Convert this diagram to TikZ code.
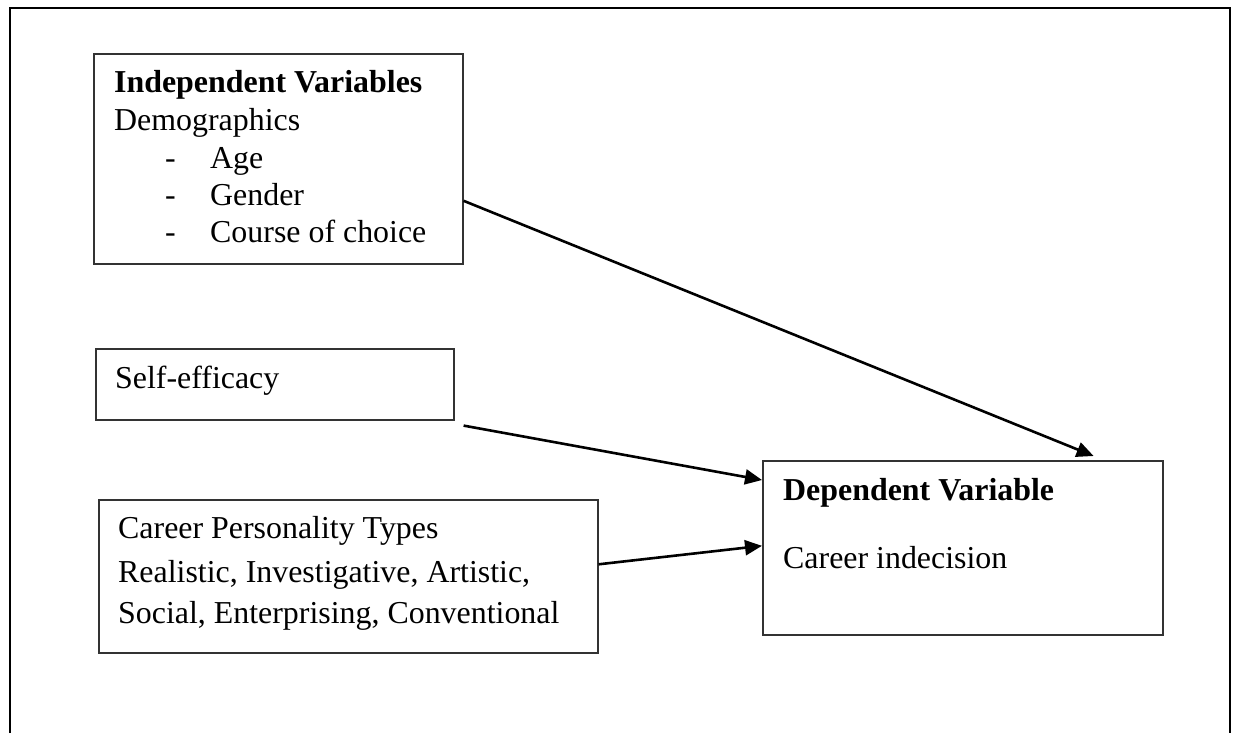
\documentclass[tikz,border=0pt]{standalone}
\usepackage{fontspec}
\setmainfont{Liberation Serif}
\usetikzlibrary{arrows.meta}
\begin{document}
\begin{tikzpicture}[x=1pt,y=-1pt,
  box/.style={draw=black!80, line width=1.6pt, rectangle, inner sep=0pt, anchor=north west},
  txt/.style={anchor=base west, inner sep=0pt, font=\fontsize{31.9}{37}\selectfont},
  btxt/.style={txt, font=\fontsize{31.9}{37}\selectfont\bfseries},
  conn/.style={line width=2.6pt, -{Triangle[length=17pt,width=15pt]}},
  frame/.style={line width=2.6pt}]
\useasboundingbox (0,0) rectangle (1238,733);
% outer frame
\draw[frame] (10,733) -- (10,8) -- (1230,8) -- (1230,733);
% boxes
\node[box, minimum width=369pt, minimum height=210pt] (b1) at (93,53) {};
\node[box, minimum width=358pt, minimum height=71pt] (b2) at (95,348) {};
\node[box, minimum width=499pt, minimum height=153pt] (b3) at (98,499) {};
\node[box, minimum width=400pt, minimum height=174pt] (b4) at (762,460) {};
% box 1 text
\node[btxt] (t11) at (114,93) {Independent Variables};
\node[txt] (t12) at (114,130) {Demographics};
\node[txt] (d1) at (165,168) {-};
\node[txt] (t13) at (210,168) {Age};
\node[txt] (d2) at (165,205) {-};
\node[txt] (t14) at (210,205) {Gender};
\node[txt] (d3) at (165,242) {-};
\node[txt] (t15) at (210,242) {Course of choice};
% box 2 text
\node[txt] (t21) at (115,388) {Self-efficacy};
% box 3 text
\node[txt] (t31) at (118,538) {Career Personality Types};
\node[txt] (t32) at (118,582) {Realistic, Investigative, Artistic,};
\node[txt] (t33) at (118,623) {Social, Enterprising, Conventional};
% box 4 text
\node[btxt] (t41) at (783,500) {Dependent Variable};
\node[txt] (t42) at (783,568) {Career indecision};
% connectors
\draw[conn] ([yshift=-42pt]b1.east) -- ([shift={(-70pt,4pt)}]b4.north east);
\draw[conn] ([shift={(9pt,-5pt)}]b2.south east) -- ([yshift=-20pt]b4.north west);
\draw[conn] ([yshift=12pt]b3.east) -- ([yshift=2pt]b4.west);
\end{tikzpicture}
\end{document}
